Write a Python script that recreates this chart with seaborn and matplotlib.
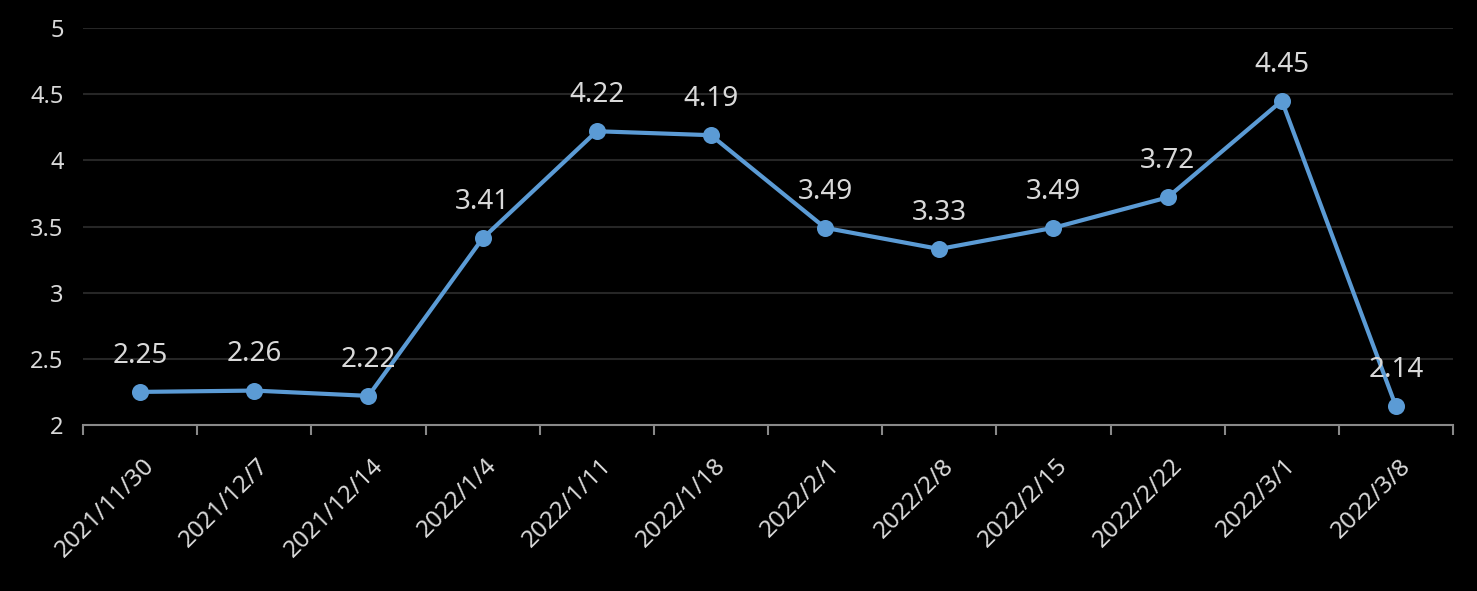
import matplotlib
matplotlib.use("Agg")
import matplotlib.pyplot as plt
import matplotlib.transforms as mtransforms
from matplotlib.ticker import FixedLocator, FormatStrFormatter
import seaborn as sns
import pandas as pd

dates = ["2021/11/30", "2021/12/7", "2021/12/14", "2022/1/4", "2022/1/11",
         "2022/1/18", "2022/2/1", "2022/2/8", "2022/2/15", "2022/2/22",
         "2022/3/1", "2022/3/8"]
values = [2.25, 2.26, 2.22, 3.41, 4.22, 4.19, 3.49, 3.33, 3.49, 3.72, 4.45, 2.14]
yticks = [2, 2.5, 3, 3.5, 4, 4.5, 5]

LINE = "#5B9BD5"
TEXT = "#D9D9D9"
GRID = "#262626"
AXIS = "#898989"

sns.set_theme(style="dark", rc={
    "figure.facecolor": "black",
    "axes.facecolor": "black",
    "axes.edgecolor": AXIS,
    "text.color": TEXT,
    "xtick.color": AXIS,
    "ytick.color": TEXT,
    "xtick.labelcolor": TEXT,
    "ytick.labelcolor": TEXT,
    "xtick.bottom": True,
})
plt.rcParams["font.family"] = ["Noto Sans", "DejaVu Sans"]

df = pd.DataFrame({"date": dates, "value": values})

fig = plt.figure(figsize=(14.77, 5.91), dpi=100)
ax = fig.add_axes([0.0562, 0.2809, 0.9276, 0.6717])

sns.pointplot(data=df, x="date", y="value", color=LINE, ax=ax,
              markers="o", markersize=10, linewidth=3)

ax.set_xlim(-0.5, len(dates) - 0.5)
ax.set_ylim(2, 5)
ax.set_xlabel("")
ax.set_ylabel("")

# y axis
ax.yaxis.set_major_locator(FixedLocator(yticks))
ax.yaxis.set_major_formatter(FormatStrFormatter("%g"))
ax.tick_params(axis="y", length=0, pad=14, labelsize=17)
ax.yaxis.grid(True, color=GRID, linewidth=1.5)
ax.set_axisbelow(True)

# x axis: tick marks between categories, labels at centers
ax.set_xticks(range(len(dates)))
ax.set_xticklabels(dates, rotation=45, ha="right", va="center",
                   rotation_mode="anchor", fontsize=17.5)
ax.set_xticks([i - 0.5 for i in range(len(dates) + 1)], minor=True)
ax.tick_params(axis="x", which="major", bottom=True, length=0, pad=27)
ax.tick_params(axis="x", which="minor", bottom=True, length=7, width=1.5,
               color=AXIS)
offset = mtransforms.ScaledTranslation(11 / 100, 0, fig.dpi_scale_trans)
for lbl in ax.get_xticklabels():
    lbl.set_transform(lbl.get_transform() + offset)

for side in ["top", "right", "left"]:
    ax.spines[side].set_visible(False)
ax.spines["bottom"].set_color(AXIS)
ax.spines["bottom"].set_linewidth(1.5)

# data labels
for i, v in enumerate(values):
    ax.annotate(f"{v:.2f}", (i, v), xytext=(0, 26), textcoords="offset points",
                ha="center", va="center", fontsize=20, color=TEXT)

fig.savefig("out.png", dpi=100, facecolor="black")
